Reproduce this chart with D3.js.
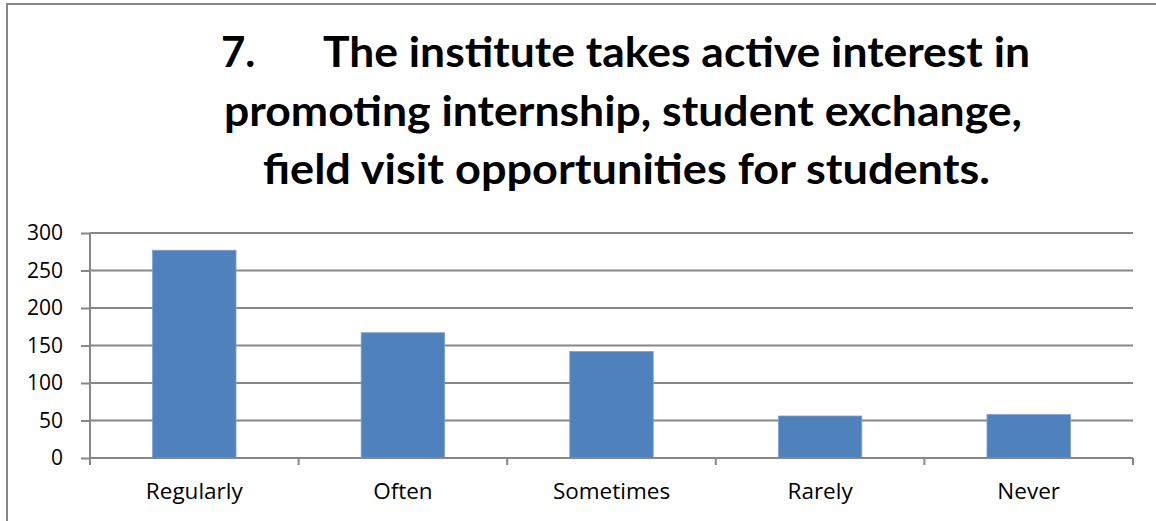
<!DOCTYPE html>
<html><head><meta charset="utf-8">
<script src="https://cdn.jsdelivr.net/npm/d3@7"></script>
<style>body{margin:0;background:#fff}svg{display:block}</style>
</head><body>
<svg id="c" width="1156" height="521"></svg>
<script>
const categories = ["Regularly","Often","Sometimes","Rarely","Never"];
const values = [277, 167, 142, 56, 58];
const yTicks = [0,50,100,150,200,250,300];
const titleNumber = "7.";
const titleLines = ["The institute takes active interest in","promoting internship, student exchange,","field visit opportunities for students."];

(function(){
const svg = d3.select("#c");
const font = "'Open Sans', sans-serif";
// outer border
svg.append("rect").attr("x",7).attr("y",4).attr("width",1160).attr("height",530)
  .attr("fill","none").attr("stroke","#878787").attr("stroke-width",2);

const pLeft=90, pRight=1133, pTop=233, pBottom=458;
const x = d3.scaleBand().domain(categories).range([pLeft,pRight]).paddingInner(0.6).paddingOuter(0.3);
const xb = d3.scaleBand().domain(categories).range([pLeft,pRight]);
const y = d3.scaleLinear().domain([0,300]).range([pBottom,pTop]);

// gridlines
svg.append("g").selectAll("line").data(yTicks.filter(d=>d>0)).join("line")
  .attr("x1",pLeft).attr("x2",pRight).attr("y1",d=>y(d)).attr("y2",d=>y(d))
  .attr("stroke","#878787").attr("stroke-width",2);

// bars
svg.append("g").selectAll("rect").data(values).join("rect")
  .attr("x",(d,i)=>x(categories[i])).attr("width",x.bandwidth())
  .attr("y",d=>y(d)).attr("height",d=>y(0)-y(d))
  .attr("fill","#4f81bd").attr("stroke","#7ba0cf").attr("stroke-width",0.8);

// y axis
const ya = svg.append("g").attr("transform",`translate(${pLeft},0)`)
  .call(d3.axisLeft(y).tickValues(yTicks).tickSize(9).tickPadding(18));
ya.select(".domain").attr("stroke","#878787").attr("stroke-width",2).attr("d",`M0,${pTop}V${pBottom}`);
ya.selectAll(".tick line").attr("stroke","#878787").attr("stroke-width",2);
ya.selectAll(".tick text").attr("font-family",font).attr("font-size",21).attr("fill","#000");

// x axis
const xa = svg.append("g").attr("transform",`translate(0,${pBottom})`)
  .call(d3.axisBottom(x).tickSize(0).tickPadding(25));
xa.select(".domain").attr("stroke","#878787").attr("stroke-width",2).attr("d",`M${pLeft},0H${pRight}`);
xa.selectAll(".tick text").attr("font-family",font).attr("font-size",22.5).attr("fill","#000");
// boundary ticks
const bounds = categories.map(c=>xb(c)).concat([pRight]);
svg.append("g").selectAll("line").data(bounds).join("line")
  .attr("x1",d=>d).attr("x2",d=>d).attr("y1",pBottom).attr("y2",pBottom+7)
  .attr("stroke","#878787").attr("stroke-width",2);

// title
const tg = svg.append("g").attr("font-family","Lato, 'Open Sans', sans-serif").attr("font-size",42).attr("font-weight","bold").attr("fill","#000");
tg.append("text").attr("x",221).attr("y",67).text(titleNumber);
[[titleLines[0],323,67,707],[titleLines[1],224,126,798],[titleLines[2],263,184,727]].forEach(([s,xx,yy,w])=>{
  tg.append("text").attr("x",xx).attr("y",yy).attr("textLength",w).attr("lengthAdjust","spacingAndGlyphs").text(s);
});
})();
</script>
</body></html>
